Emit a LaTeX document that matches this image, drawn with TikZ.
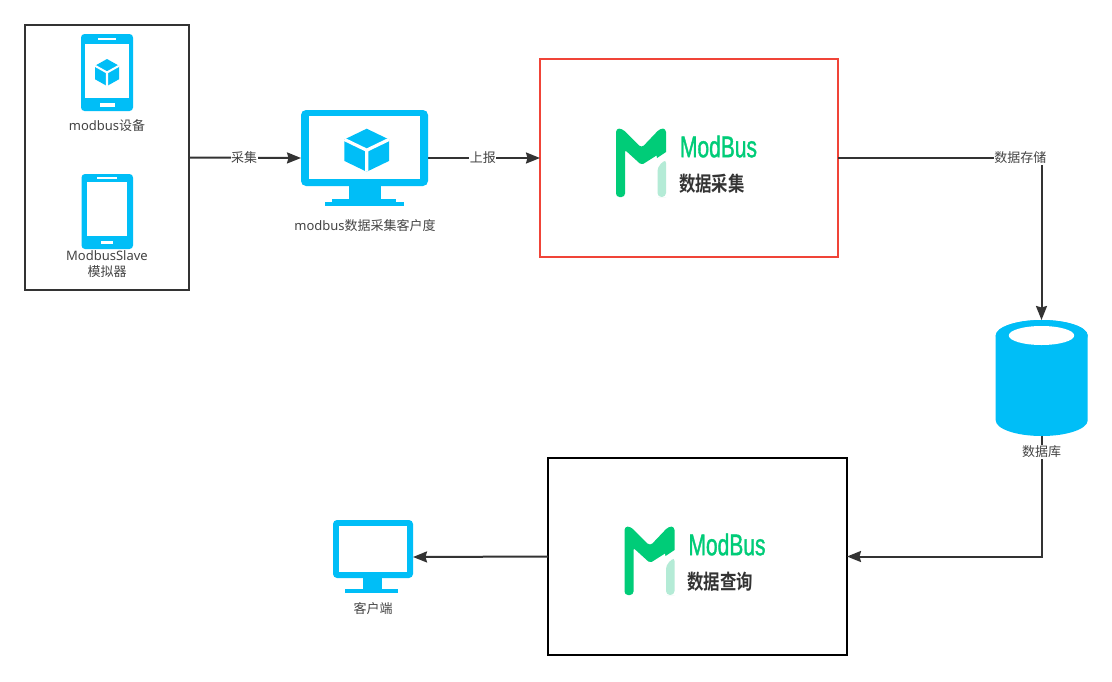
\documentclass[tikz,border=0pt]{standalone}
\usepackage{fontspec}
\setmainfont{Noto Sans}
\newfontfamily\cjk{Noto Sans CJK SC}
\newfontfamily\logofont[FakeStretch=0.7,FakeBold=1.2]{Liberation Sans}
\newfontfamily\logocjk[FakeStretch=0.8]{Noto Sans CJK SC Bold}
\usetikzlibrary{arrows.meta}
\definecolor{iconblue}{HTML}{00BEF7}
\definecolor{inkgray}{HTML}{333333}
\definecolor{txtgray}{HTML}{444444}
\definecolor{logogreen}{HTML}{00CC78}
\definecolor{logolight}{HTML}{B4EBD6}
\definecolor{redline}{HTML}{F04438}
\tikzset{
  box/.style={draw=inkgray,line width=1.8pt,fill=white,inner sep=0pt,outer sep=0pt,minimum width=#1},
  region/.style={inner sep=0pt,outer sep=0pt,minimum width=#1},
  lbl/.style={font=\fontsize{13}{16}\selectfont,text=txtgray,inner sep=0.5pt,align=center},
  edgelbl/.style={lbl,fill=white},
  conn/.style={draw=inkgray,line width=2pt,-{Stealth[length=14pt,width=11pt,inset=1.5pt]}},
}
\newcommand{\cubeicon}[4]{% cx cy halfwidth halfheight
  \begin{scope}[shift={(#1,#2)}]
    \fill[iconblue] (0,-#4) -- (#3,-#4/2) -- (#3,#4/2) -- (0,#4) -- (-#3,#4/2) -- (-#3,-#4/2) -- cycle;
    \draw[white,line width=0.075*#4 pt*2] (-#3,-#4/2) -- (0,0) -- (#3,-#4/2) (0,0) -- (0,#4);
  \end{scope}}
\newcommand{\logomark}[3]{% dx dy text
  \begin{scope}[shift={(#1,#2)}]
    \fill[logolight,rounded corners=4pt] (662,197) -- (657.5,197) -- (657.5,167) -- (666,159) -- (666,197) -- cycle;
    \fill[logogreen,rounded corners=3.5pt] (620.5,197) -- (616,197) -- (616,128.5) -- (622,128.5) -- (641.5,148)
      -- (660,128.5) -- (666,128.5) [sharp corners] -- (666,152) -- (657,158) -- (656.5,155.5)
      [rounded corners=2pt] -- (641.5,165) -- (625,150) [rounded corners=3.5pt] -- (625,197) -- (620.5,197);
    \node[inner sep=0pt,text=logogreen] (#3a) at (718.5,146.5) {\fontsize{30}{30}\logofont ModBus};
    \node[inner sep=0pt,text=inkgray] (#3b) at (711.8,184) {\fontsize{20.5}{22}\logocjk #3};
  \end{scope}}
\begin{document}
\begin{tikzpicture}[x=1pt,y=-1pt]
\useasboundingbox (0,0) rectangle (1112,681);
\fill[white] (0,0) rectangle (1112,681);

% containers
\node[box=164.5pt,minimum height=265pt] (devices) at (107,157.5) {};
\node[box=298pt,draw=redline,minimum height=198pt] (collect) at (689,158) {};
\node[box=299pt,draw=black,minimum height=197pt] (query) at (697.5,556.5) {};

% regions of the icons
\node[region=127pt,minimum height=96pt] (gateway) at (364.5,158) {};
\node[region=92pt,minimum height=116pt] (db) at (1041.5,378) {};
\node[region=80pt,minimum height=74pt] (client) at (373,557) {};

% connectors
\draw[conn] (devices.east) -- node[edgelbl,pos=0.49] (l1) {\cjk 采集} (gateway.west);
\draw[conn] (gateway.east) -- node[edgelbl,pos=0.49] (l2) {\cjk 上报} (collect.west);
\draw[conn] (collect.east) -| node[edgelbl,pos=0.448] (l3) {\cjk 数据存储} (db.north);
\draw[conn] (db.south) |- (query.east);
\draw[conn] (query.west) -- (client.east);

% phone 1
\fill[iconblue,rounded corners=3.5pt] (81,34) rectangle (133,111);
\fill[white] (85,44) rectangle (129,98);
\fill[white] (98,38) rectangle (116,40.2);
\fill[white] (99.5,103) rectangle (115,106.5);
\cubeicon{107}{72.5}{12}{13.5}
\node[lbl] (phoneA) at (107,126) {modbus{\cjk 设备}};

% phone 2
\fill[iconblue,rounded corners=3.5pt] (81.5,174) rectangle (133,249);
\fill[white] (86.7,182) rectangle (127.3,236);
\fill[white] (97,176.5) rectangle (117,179);
\fill[white] (101,241) rectangle (113,243.5);
\node[lbl] (phoneB) at (107,264) {ModbusSlave\\[0pt]{\cjk 模拟器}};

% gateway monitor
\fill[iconblue,rounded corners=5pt] (301,110) rectangle (428,186);
\fill[white] (309.3,116.3) rectangle (420,179.3);
\fill[iconblue] (349,185) rectangle (380.7,200);
\fill[iconblue] (332,199) rectangle (396,203);
\fill[iconblue] (325,202.3) rectangle (404,205.7);
\cubeicon{366.7}{150.2}{22.3}{21.5}
\node[lbl] (gwlabel) at (365,226) {modbus{\cjk 数据采集客户度}};

% cylinder
\fill[iconblue] (995.7,335.7) arc[x radius=46,y radius=15.7,start angle=180,end angle=360]
  -- (1087.7,420.3) arc[x radius=46,y radius=15.7,start angle=0,end angle=180] -- cycle;
\fill[iconblue] (1041.7,335.7) ellipse[x radius=46,y radius=15.7];
\fill[white] (1041.5,335.5) ellipse[x radius=32.7,y radius=9.5];
\node[edgelbl] (dblabel) at (1041.5,452) {\cjk 数据库};

% client monitor
\fill[iconblue,rounded corners=4pt] (333,520) rectangle (413,578);
\fill[white] (339,525.7) rectangle (406.7,572);
\fill[iconblue] (362.7,577) rectangle (382,590);
\fill[iconblue] (345,589) rectangle (397.7,593);
\node[lbl] (clientlabel) at (373,609) {\cjk 客户端};

% logos
\logomark{0}{0}{数据采集}
\logomark{8.5}{398}{数据查询}
\end{tikzpicture}
\end{document}
